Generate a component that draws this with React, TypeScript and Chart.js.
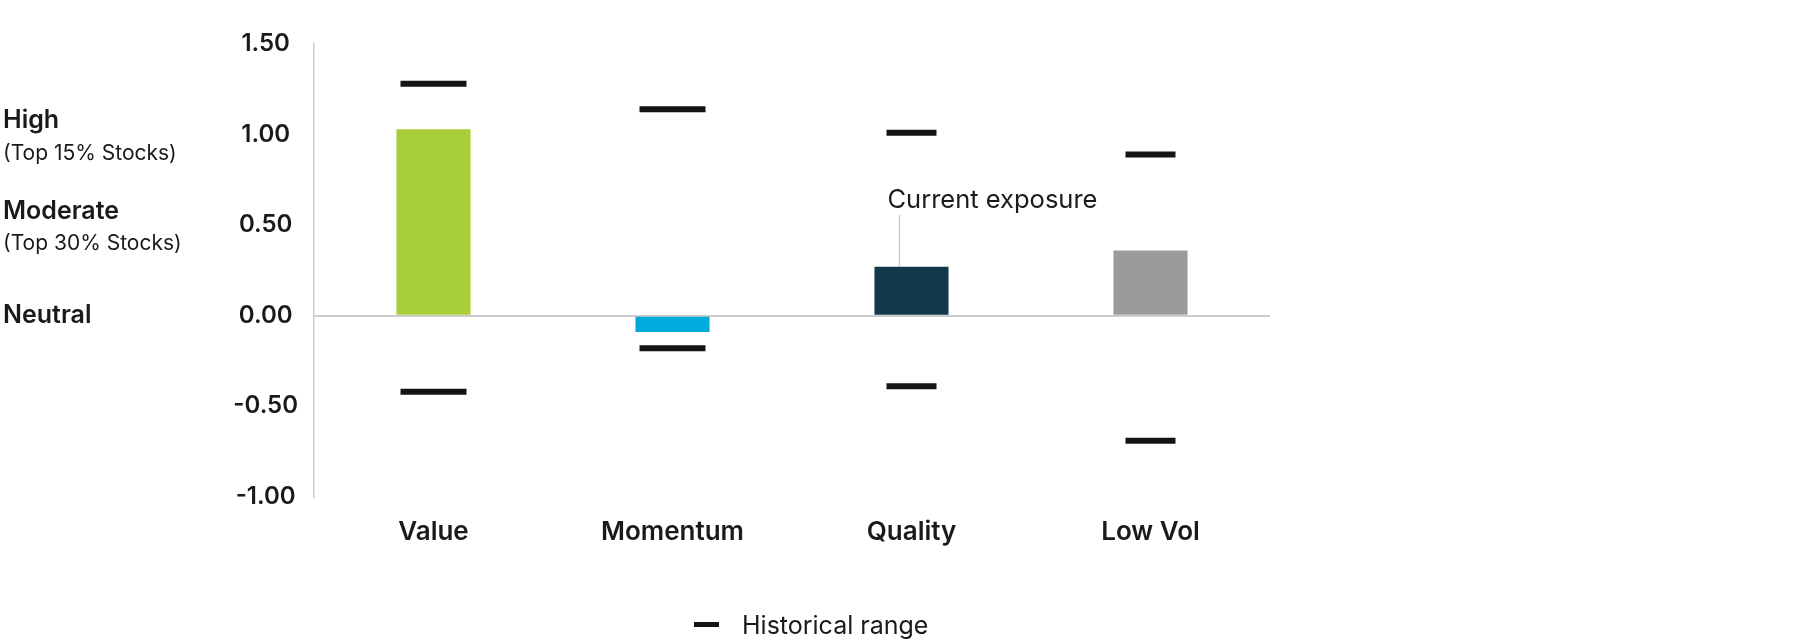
import { useEffect, useRef } from 'react'
import { Chart, registerables } from 'chart.js'

Chart.register(...registerables)

const FACTORS = ['Value', 'Momentum', 'Quality', 'Low Vol']
const CURRENT = [1.03, -0.09, 0.27, 0.36]
const HIST_HIGH = [1.28, 1.14, 1.01, 0.89]
const HIST_LOW = [-0.42, -0.18, -0.39, -0.69]
const BAR_COLORS = ['#a8cf38', '#00aadd', '#13384a', '#9b9b9b']
const MARKER_HALF = [33, 33, 25, 25]

const Y_MIN = -1
const Y_MAX = 1.5
const Y_STEP = 0.5

const LEVELS = [1.0, 0.5, 0]
const LEVEL_NAMES = ['High', 'Moderate', 'Neutral']
const LEVEL_NOTES = ['(Top 15% Stocks)', '(Top 30% Stocks)', '']

const FONT = 'Inter, "Noto Sans", sans-serif'
const INK = '#1a1a1a'

const levelLabels = {
  id: 'levelLabels',
  afterDraw(chart: Chart) {
    const { ctx } = chart
    const y = chart.scales.y
    ctx.save()
    ctx.fillStyle = INK
    ctx.textAlign = 'left'
    ctx.textBaseline = 'middle'
    LEVELS.forEach((v, i) => {
      const py = y.getPixelForValue(v)
      const note = LEVEL_NOTES[i]
      ctx.font = `600 25px ${FONT}`
      ctx.fillText(LEVEL_NAMES[i], 3, note ? py - 14 : py)
      if (note) {
        ctx.font = `400 21px ${FONT}`
        ctx.fillText(note, 3, py + 19)
      }
    })
    ctx.restore()
  },
}

const exposureNote = {
  id: 'exposureNote',
  afterDatasetsDraw(chart: Chart) {
    const bar: any = chart.getDatasetMeta(0).data[2]
    if (!bar) return
    const { ctx } = chart
    const x0 = bar.x - bar.width / 2
    const top = Math.min(bar.y, bar.base)
    ctx.save()
    ctx.strokeStyle = '#cccccc'
    ctx.lineWidth = 1.5
    ctx.beginPath()
    ctx.moveTo(x0 + 25, top)
    ctx.lineTo(x0 + 25, top - 52)
    ctx.stroke()
    ctx.fillStyle = INK
    ctx.font = `400 25.5px ${FONT}`
    ctx.textAlign = 'left'
    ctx.textBaseline = 'alphabetic'
    ctx.fillText('Current exposure', x0 + 13, top - 59)
    ctx.restore()
  },
}

const rangeLegend = {
  id: 'rangeLegend',
  afterDraw(chart: Chart) {
    const { ctx } = chart
    ctx.save()
    ctx.fillStyle = '#141414'
    ctx.fillRect(694, 622, 25, 5)
    ctx.fillStyle = INK
    ctx.font = `400 25px ${FONT}`
    ctx.textAlign = 'left'
    ctx.textBaseline = 'middle'
    ctx.fillText('Historical range', 742, 626)
    ctx.restore()
  },
}

export default function App() {
  const ref = useRef<HTMLCanvasElement>(null)
  const chart = useRef<Chart | null>(null)

  useEffect(() => {
    if (!ref.current) return
    chart.current?.destroy()
    chart.current = new Chart(ref.current, {
      type: 'bar',
      data: {
        labels: FACTORS,
        datasets: [
          {
            type: 'bar',
            label: 'Current exposure',
            data: CURRENT,
            backgroundColor: BAR_COLORS,
            barPercentage: 0.31,
            categoryPercentage: 1,
            order: 2,
          },
          {
            type: 'line',
            label: 'Historical high',
            data: HIST_HIGH,
            showLine: false,
            pointStyle: 'line',
            pointRadius: MARKER_HALF,
            pointHoverRadius: MARKER_HALF,
            pointBorderWidth: 6,
            pointHoverBorderWidth: 6,
            borderColor: '#141414',
            order: 1,
          },
          {
            type: 'line',
            label: 'Historical low',
            data: HIST_LOW,
            showLine: false,
            pointStyle: 'line',
            pointRadius: MARKER_HALF,
            pointHoverRadius: MARKER_HALF,
            pointBorderWidth: 6,
            pointHoverBorderWidth: 6,
            borderColor: '#141414',
            order: 1,
          },
        ] as any,
      },
      options: {
        responsive: false,
        animation: false,
        devicePixelRatio: 1,
        layout: { padding: { left: 0, right: 530, top: 44, bottom: 84 } },
        plugins: { legend: { display: false }, tooltip: { enabled: false } },
        scales: {
          x: {
            grid: { display: false },
            border: { display: false },
            ticks: { color: INK, font: { family: FONT, size: 26, weight: 600 }, padding: 12 },
          },
          y: {
            min: Y_MIN,
            max: Y_MAX,
            z: 1,
            afterFit: (s: any) => {
              s.width = 314
            },
            ticks: {
              stepSize: Y_STEP,
              crossAlign: 'center',
              padding: 16,
              color: INK,
              font: { family: FONT, size: 24, weight: 600 },
              callback: (v: any) => Number(v).toFixed(2),
            },
            grid: {
              drawTicks: false,
              lineWidth: 2,
              color: (c: any) => (c.tick && c.tick.value === 0 ? '#cccccc' : 'rgba(0,0,0,0)'),
            },
            border: { color: '#cccccc', width: 1.5 },
          },
        },
      },
      plugins: [levelLabels, exposureNote, rangeLegend],
    })
    return () => chart.current?.destroy()
  }, [])

  return (
    <div style={{ position: 'absolute', left: 0, top: 0, width: 1800, height: 644, background: '#fff' }}>
      <canvas ref={ref} width={1800} height={644} role="img" aria-label="Current factor exposure versus historical range" />
    </div>
  )
}
